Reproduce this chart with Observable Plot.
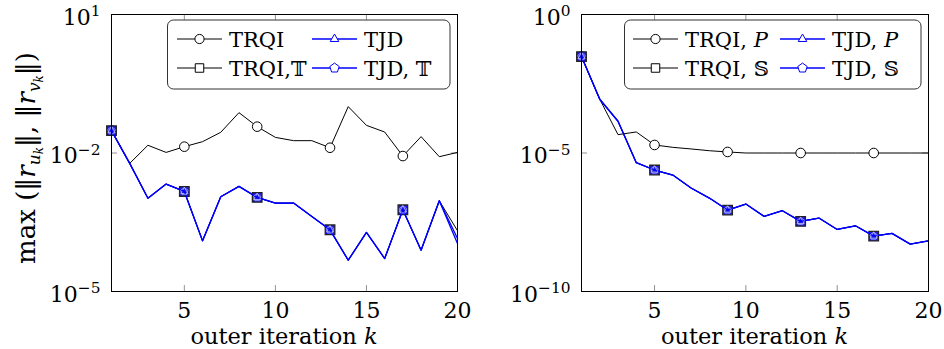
<!DOCTYPE html>
<html><head><meta charset="utf-8">
<script src="https://cdn.jsdelivr.net/npm/d3@7"></script>
<script src="https://cdn.jsdelivr.net/npm/@observablehq/plot@0.6"></script>
<style>
body{margin:0;background:#fff;}
#wrap{display:flex;width:944px;height:349px;overflow:hidden;}
</style></head><body><div id="wrap"></div>
<script>
// ---- data ----
const iterK = [1,2,3,4,5,6,7,8,9,10,11,12,13,14,15,16,17,18,19,20];
const markK = [1,5,9,13,17];
const ticksX = [5,10,15,20];
const leftTicksY = [1e1,1e-2,1e-5];
const rightTicksY = [1e0,1e-5,1e-10];

const leftTRQI  = [3.05e-2,5.96e-3,1.47e-2,1.03e-2,1.37e-2,1.76e-2,2.81e-2,7.48e-2,3.72e-2,2.18e-2,1.85e-2,1.85e-2,1.30e-2,1.01e-1,3.97e-2,2.85e-2,8.59e-3,2.26e-2,8.32e-3,1.03e-2];
const leftTRQIT = [3.05e-2,5.96e-3,1.05e-3,2.12e-3,1.47e-3,1.25e-4,1.13e-3,1.89e-3,1.09e-3,8.22e-4,8.22e-4,4.22e-4,2.17e-4,4.76e-5,1.90e-4,5.18e-5,5.89e-4,7.85e-5,9.23e-4,2.07e-4];
const leftTJD   = [3.05e-2,5.96e-3,1.05e-3,2.12e-3,1.47e-3,1.25e-4,1.13e-3,1.89e-3,1.09e-3,8.22e-4,8.22e-4,4.22e-4,2.17e-4,4.76e-5,1.90e-4,5.18e-5,5.89e-4,7.85e-5,9.23e-4,1.10e-4];
const leftTJDT  = [3.05e-2,5.96e-3,1.05e-3,2.12e-3,1.47e-3,1.25e-4,1.13e-3,1.89e-3,1.09e-3,8.22e-4,8.22e-4,4.22e-4,2.17e-4,4.76e-5,1.90e-4,5.18e-5,5.89e-4,7.85e-5,9.23e-4,1.41e-4];

const rightTRQIP = [3.03e-2,8.71e-4,4.60e-5,5.75e-5,1.95e-5,1.60e-5,1.40e-5,1.21e-5,1.09e-5,1.00e-5,1.00e-5,1.00e-5,1.00e-5,1.00e-5,1.00e-5,1.00e-5,1.00e-5,1.00e-5,1.00e-5,1.00e-5];
const rightTRQIS = [3.03e-2,8.71e-4,1.40e-4,4.48e-6,2.43e-6,1.60e-6,5.43e-7,2.36e-7,8.71e-8,1.44e-7,5.14e-8,8.24e-8,3.39e-8,4.48e-8,1.74e-8,2.36e-8,1.00e-8,1.25e-8,5.14e-9,6.78e-9];
const rightTJDP  = [3.03e-2,8.71e-4,1.40e-4,4.48e-6,2.43e-6,1.60e-6,5.43e-7,2.36e-7,8.71e-8,1.44e-7,5.14e-8,8.24e-8,3.39e-8,4.48e-8,1.74e-8,2.36e-8,1.00e-8,1.25e-8,5.14e-9,6.78e-9];
const rightTJDS  = [3.03e-2,8.71e-4,1.40e-4,4.48e-6,2.43e-6,1.60e-6,5.43e-7,2.36e-7,8.71e-8,1.44e-7,5.14e-8,8.24e-8,3.39e-8,4.48e-8,1.74e-8,2.36e-8,1.00e-8,1.25e-8,5.14e-9,6.78e-9];

const leftNames  = ["TRQI","TRQI,\u{1D54B}","TJD","TJD, \u{1D54B}"];
const rightNames = ["TRQI, |P","TRQI, \u{1D54A}","TJD, |P","TJD, \u{1D54A}"];

// ---- symbols ----
function polySymbol(n) {
  return {draw(ctx, size) {
    const r = Math.sqrt(size / Math.PI) * 1.15;
    for (let i = 0; i < n; i++) {
      const a = -Math.PI/2 + i*2*Math.PI/n;
      const x = r*Math.cos(a), y = r*Math.sin(a);
      if (i === 0) ctx.moveTo(x, y); else ctx.lineTo(x, y);
    }
    ctx.closePath();
  }};
}
const triSym = polySymbol(3), pentSym = polySymbol(5);

const FONT = "'DejaVu Serif', serif";
const W = 472, H = 349, MT = 14, MB = 58;

function rows(vals) { return iterK.map((k, i) => ({k, v: vals[i]})); }
function marked(vals) { return rows(vals).filter(d => markK.includes(d.k)); }

function panel({domain, yticks, innerY, series, ml, mr}) {
  const fw = W - ml - mr, fh = H - MT - MB;
  const [s1, s2, s3, s4] = series;
  const tickStyle = {stroke: "#777", strokeWidth: 0.8};
  const svg = Plot.plot({
    width: W, height: H, marginLeft: ml, marginRight: mr, marginTop: MT, marginBottom: MB,
    style: {fontFamily: FONT, fontSize: "22px", background: "white", color: "black", overflow: "visible"},
    x: {domain: [1, 20], ticks: ticksX, tickSize: 0, tickPadding: 11, label: null},
    y: {type: "log", domain, ticks: yticks, tickSize: 0, tickPadding: 11, label: null,
        tickFormat: d => "10^" + Math.round(Math.log10(d))},
    marks: [
      Plot.ruleX(ticksX.slice(0, 3), {insetTop: fh - 6, ...tickStyle}),
      Plot.ruleX(ticksX.slice(0, 3), {insetBottom: fh - 6, ...tickStyle}),
      Plot.ruleY([innerY], {insetRight: fw - 6, ...tickStyle}),
      Plot.ruleY([innerY], {insetLeft: fw - 6, ...tickStyle}),
      Plot.line(rows(s1), {x: "k", y: "v", stroke: "black", strokeWidth: 1}),
      Plot.dot(marked(s1), {x: "k", y: "v", symbol: "circle", r: 4.8, stroke: "black", fill: "white", strokeWidth: 1}),
      Plot.line(rows(s2), {x: "k", y: "v", stroke: "black", strokeWidth: 1}),
      Plot.dot(marked(s2), {x: "k", y: "v", symbol: "square", r: 5.4, stroke: "#222", fill: "#1c1ce6", strokeWidth: 1.3}),
      Plot.line(rows(s3), {x: "k", y: "v", stroke: "blue", strokeWidth: 1.3}),
      Plot.dot(marked(s3), {x: "k", y: "v", symbol: triSym, r: 3.6, stroke: "#d8d8ff", fill: "none", strokeWidth: 0.7}),
      Plot.line(rows(s4), {x: "k", y: "v", stroke: "blue", strokeWidth: 1.3}),
      Plot.dot(marked(s4), {x: "k", y: "v", symbol: pentSym, r: 3.4, stroke: "#b8b8ff", fill: "none", strokeWidth: 0.7}),
      Plot.frame({stroke: "black", strokeWidth: 1})
    ]
  });
  // superscript tick labels
  d3.select(svg).selectAll('g[aria-label="y-axis tick label"] text').each(function() {
    const t = d3.select(this);
    const exp = t.text().split("^")[1].replace("-", "\u2212");
    t.text(null);
    t.append("tspan").attr("dy", "0.14em").text("10");
    t.append("tspan").attr("dy", "-0.55em").attr("font-size", "0.7em").text(exp);
  });
  return svg;
}

function addXLabel(svg, ml, mr) {
  const t = d3.select(svg).append("text")
    .attr("x", ml + (W - ml - mr) / 2).attr("y", 344)
    .attr("text-anchor", "middle").attr("font-size", 22.5).attr("font-family", FONT);
  t.append("tspan").text("outer iteration ");
  t.append("tspan").attr("font-style", "italic").text("k");
}

function addLegend(svg, box, cols, names) {
  const g = d3.select(svg).append("g").attr("font-family", FONT).attr("font-size", 21)
    .attr("text-anchor", "start");
  g.append("rect").attr("x", box[0]).attr("y", box[1]).attr("width", box[2]).attr("height", box[3])
    .attr("rx", 6).attr("fill", "white").attr("stroke", "#333").attr("stroke-width", 1);
  const rowsY = [39, 68];
  const specs = [
    {col: 0, row: 0, color: "black", sym: d3.symbolCircle, size: Math.PI*4.6*4.6},
    {col: 0, row: 1, color: "black", sym: d3.symbolSquare, size: 72},
    {col: 1, row: 0, color: "blue", sym: triSym, size: Math.PI*4.3*4.3},
    {col: 1, row: 1, color: "blue", sym: pentSym, size: Math.PI*4.3*4.3}
  ];
  specs.forEach((s, i) => {
    const x0 = cols[s.col], y = rowsY[s.row];
    g.append("line").attr("x1", x0).attr("x2", x0 + 45).attr("y1", y).attr("y2", y)
      .attr("stroke", s.color).attr("stroke-width", s.color === "blue" ? 1.3 : 1);
    g.append("path").attr("d", d3.symbol(s.sym, s.size)()).attr("transform", `translate(${x0 + 22.5},${y})`)
      .attr("fill", "white").attr("stroke", s.color).attr("stroke-width", 1);
    const txt = g.append("text").attr("x", x0 + 52).attr("y", y + 7.5).attr("text-anchor", "start");
    const parts = names[i].split("|");
    txt.append("tspan").text(parts[0]);
    if (parts[1]) txt.append("tspan").attr("font-style", "italic").text(parts[1]);
  });
}

function addYLabel(svg) {
  const t = d3.select(svg).append("text")
    .attr("transform", "translate(27,158) rotate(-90)")
    .attr("text-anchor", "middle").attr("dy", "0.32em")
    .attr("font-size", 26).attr("font-family", FONT);
  t.append("tspan").text("max (\u2016");
  const norm = (sub) => {
    t.append("tspan").attr("font-style", "italic").text("r");
    t.append("tspan").attr("font-style", "italic").attr("font-size", 17).attr("dy", 5).text(sub);
    t.append("tspan").attr("font-style", "italic").attr("font-size", 12).attr("dy", 3).text("k");
  };
  norm("u");
  t.append("tspan").attr("dy", -8).text("\u2016, \u2016");
  norm("v");
  t.append("tspan").attr("dy", -8).text("\u2016)");
}

const wrap = document.getElementById("wrap");

const L = panel({domain: [1e-5, 1e1], yticks: leftTicksY, innerY: 1e-2,
  series: [leftTRQI, leftTRQIT, leftTJD, leftTJDT], ml: 111, mr: 15});
addXLabel(L, 111, 15);
addLegend(L, [167.5, 20, 282.5, 69], [177, 312], leftNames);
addYLabel(L);
wrap.appendChild(L);

const R = panel({domain: [1e-10, 1e0], yticks: rightTicksY, innerY: 1e-5,
  series: [rightTRQIP, rightTRQIS, rightTJDP, rightTJDS], ml: 109, mr: 16});
addXLabel(R, 109, 16);
addLegend(R, [152.5, 20, 296.5, 69], [161, 308], rightNames);
wrap.appendChild(R);
</script>
</body></html>
